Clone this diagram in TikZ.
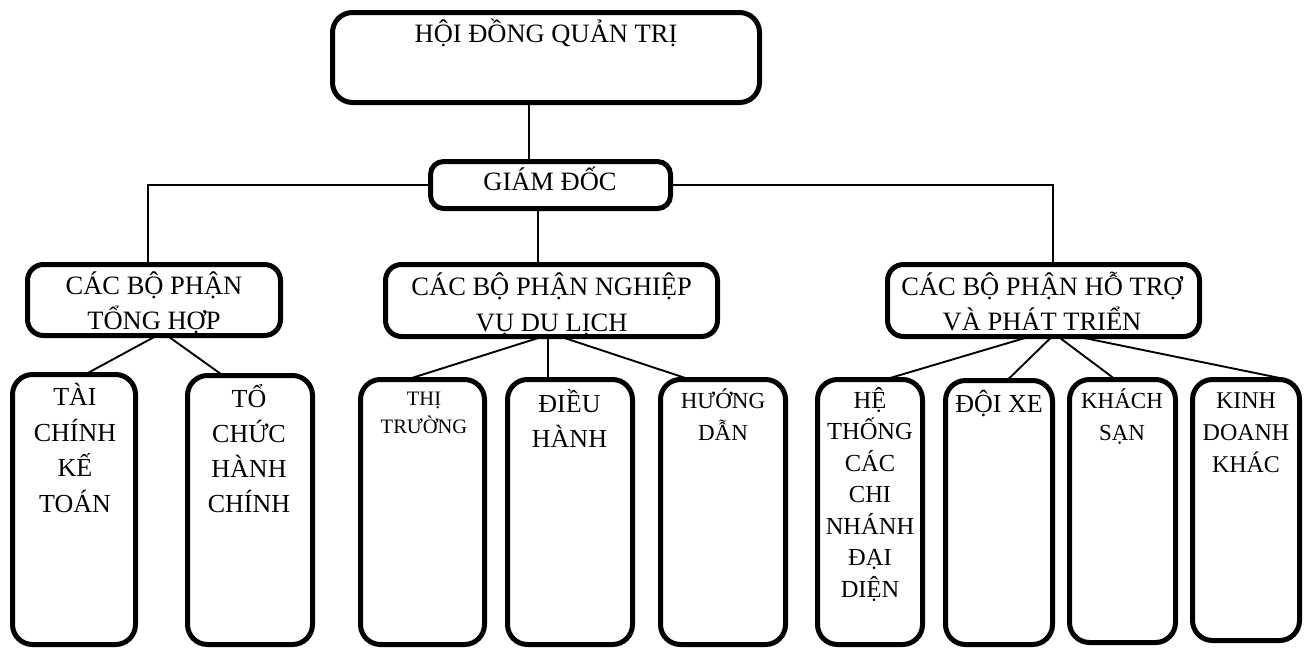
\documentclass[tikz,border=0pt]{standalone}
\usepackage{fontspec}
\setmainfont{Liberation Serif}
\newcommand\toprule{\rule{0pt}{30pt}}
\begin{document}
\begin{tikzpicture}[x=1pt,y=-1pt,
  box/.style={draw=black, line width=5pt, rounded corners=#1, inner sep=0pt, outer sep=0pt},
  box/.default=20pt,
  lbl/.style 2 args={anchor=north, yshift=30pt, inner sep=0pt, align=center,
    font=\fontsize{#1}{#2}\selectfont},
  link/.style={draw=black, line width=1.9pt}]
\useasboundingbox (0,0) rectangle (1309,649);

% top levels
\node[box, minimum width=427pt, minimum height=90pt] (hdqt) at (546,57.5) {};
\node[box=13pt, minimum width=240pt, minimum height=47pt] (gd) at (550.5,185) {};

% second level
\node[box=16pt, minimum width=253pt, minimum height=71pt] (th) at (154,300) {};
\node[box=16pt, minimum width=332pt, minimum height=72pt] (nv) at (551.5,300.5) {};
\node[box=16pt, minimum width=312pt, minimum height=72pt] (ho) at (1043.5,300.5) {};

% bottom level
\node[box, minimum width=123pt, minimum height=270pt] (tc) at (74,509.5) {};
\node[box, minimum width=125pt, minimum height=269pt] (tchc) at (250,510) {};
\node[box, minimum width=124pt, minimum height=265pt] (tt) at (422.5,512) {};
\node[box, minimum width=125pt, minimum height=265pt] (dh) at (570,512) {};
\node[box, minimum width=125pt, minimum height=265pt] (hd) at (723,512) {};
\node[box, minimum width=105pt, minimum height=265pt] (ht) at (870,512) {};
\node[box, minimum width=107pt, minimum height=264pt] (dx) at (999,512.5) {};
\node[box, minimum width=106pt, minimum height=263pt] (ks) at (1122.5,511) {};
\node[box, minimum width=107pt, minimum height=261pt] (kd) at (1246,510) {};

% labels (placed by the baseline of their first line)
\node[lbl={26.5}{35}] (hdqtT) at (546,42.7) {\toprule HỘI ĐỒNG QUẢN TRỊ};
\node[lbl={26.5}{35}] (gdT) at (550,190) {\toprule GIÁM ĐỐC};
\node[lbl={26.5}{35}] (thT) at (154,294) {\toprule CÁC BỘ PHẬN\\TỔNG HỢP};
\node[lbl={26.5}{36}] (nvT) at (551.7,295) {\toprule CÁC BỘ PHẬN NGHIỆP\\VỤ DU LỊCH};
\node[lbl={26.5}{35}] (hoT) at (1042,295) {\toprule CÁC BỘ PHẬN HỖ TRỢ\\VÀ PHÁT TRIỂN};
\node[lbl={26}{35.5}] (tcT) at (75,405.5) {\toprule TÀI\\CHÍNH\\KẾ\\TOÁN};
\node[lbl={26}{35}] (tchcT) at (249,407) {\toprule TỔ\\CHỨC\\HÀNH\\CHÍNH};
\node[lbl={20.5}{28}] (ttT) at (424,405) {\toprule THỊ\\TRƯỜNG};
\node[lbl={26}{35}] (dhT) at (569.5,412) {\toprule ĐIỀU\\HÀNH};
\node[lbl={23}{32}] (hdT) at (723,408) {\toprule HƯỚNG\\DẪN};
\node[lbl={24.5}{31.5}] (htT) at (870,408) {\toprule HỆ\\THỐNG\\CÁC\\CHI\\NHÁNH\\ĐẠI\\DIỆN};
\node[lbl={26}{35}] (dxT) at (999,412) {\toprule ĐỘI XE};
\node[lbl={23}{32}] (ksT) at (1122,408) {\toprule KHÁCH\\SẠN};
\node[lbl={24}{32}] (kdT) at (1246,408) {\toprule KINH\\DOANH\\KHÁC};

% connectors
\path[link] ([xshift=-17pt]hdqt.south) -- ([xshift=-17pt]hdqt.south |- gd.north);
\path[link] (gd.west) -| ([xshift=-6pt]th.north);
\path[link] (gd.east) -| ([xshift=9.5pt]ho.north);
\path[link] ([xshift=-12.5pt]gd.south) -- ([xshift=-12.5pt]gd.south |- nv.north);

\path[link] ([xshift=3pt]th.south) -- ([xshift=11pt]tc.north);
\path[link] ([xshift=13pt]th.south) -- ([xshift=-27pt]tchc.north);

\path[link] ([xshift=-8.5pt]nv.south) -- ([xshift=-15.5pt]tt.north);
\path[link] ([xshift=-3.5pt]nv.south) -- ([xshift=-3.5pt]nv.south |- dh.north);
\path[link] ([xshift=8.5pt]nv.south) -- ([xshift=-33pt]hd.north);

\path[link] ([xshift=-13.5pt]ho.south) -- ([xshift=15pt]ht.north);
\path[link] ([xshift=8.5pt]ho.south) -- ([xshift=8pt]dx.north);
\path[link] ([xshift=14.5pt]ho.south) -- ([xshift=-7pt]ks.north);
\path[link] ([xshift=33.5pt]ho.south) -- ([xshift=41pt]kd.north);
\end{tikzpicture}
\end{document}
